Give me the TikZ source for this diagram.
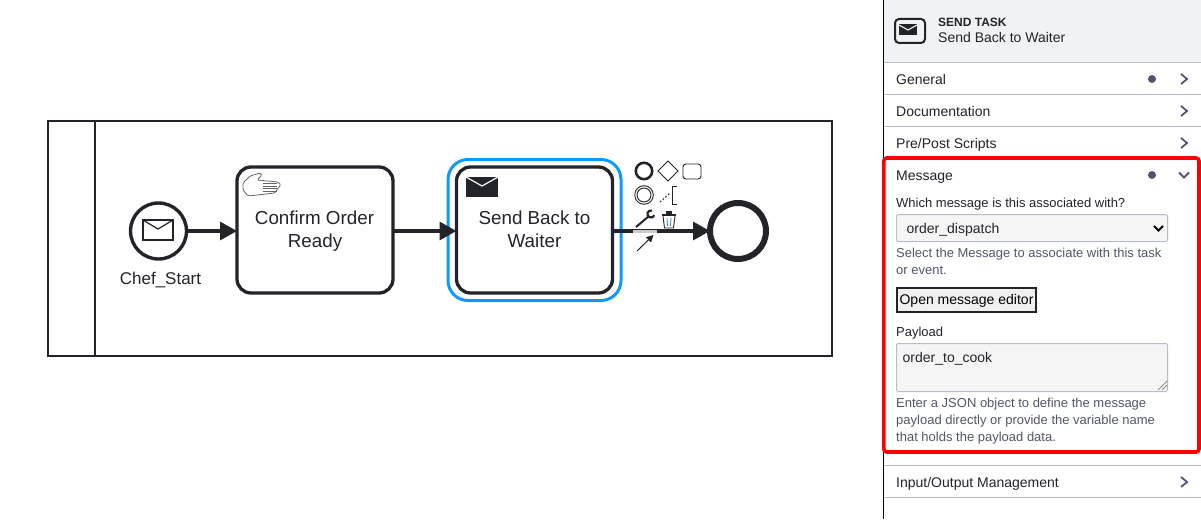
\documentclass[tikz,border=0pt]{standalone}
\usepackage{fontspec}
\setmainfont{Liberation Sans}
\usetikzlibrary{arrows.meta}
\definecolor{ink}{HTML}{22242A}
\definecolor{panelgrey}{HTML}{F1F2F4}
\definecolor{rulegrey}{HTML}{B9BCC6}
\definecolor{helptext}{HTML}{52566A}
\definecolor{fieldbg}{HTML}{F5F5F5}
\definecolor{selblue}{HTML}{0D99FF}
\tikzset{
  x=1pt,y=-1pt,
  flow/.style={draw=ink,line width=3.3pt,-{Triangle[length=17pt,width=18pt]}},
  taskbox/.style={draw=ink,line width=3.3pt,rounded corners=14pt,fill=white,minimum width=156pt,minimum height=126pt,outer sep=0pt},
  tasktext/.style={anchor=base,inner sep=0pt,text=ink,font=\fontsize{18.8}{22.5}\selectfont},
  eventc/.style={draw=ink,circle,fill=white,outer sep=0pt,inner sep=0pt},
  ptext/.style={anchor=base west,inner sep=0pt,text=ink,font=\fontsize{14}{16}\selectfont},
  ltext/.style={anchor=base west,inner sep=0pt,text=ink,font=\fontsize{13}{16}\selectfont},
  htext/.style={anchor=base west,inner sep=0pt,text=helptext,font=\fontsize{13}{16}\selectfont},
  pline/.style={draw=rulegrey,line width=1pt},
  chev/.style={draw=helptext,line width=1.8pt},
  dotm/.style={circle,fill=helptext,inner sep=0pt,minimum size=8pt},
}
\begin{document}
\begin{tikzpicture}
\useasboundingbox (0,0) rectangle (1201,519);
\fill[white] (0,0) rectangle (1201,519);
% pool
\draw[ink,line width=2pt] (48,121) rectangle (832,356);
\draw[ink,line width=2pt] (95,121) -- (95,356);
% selection
\draw[selblue,line width=3pt,rounded corners=20pt] (448,159.5) rectangle (621,300.5);
% elements
\node[eventc,line width=3.4pt,minimum size=56pt] (start) at (158.5,231) {};
\node[taskbox] (confirm) at (315,230) {};
\node[taskbox] (send) at (534.5,230) {};
\node[eventc,line width=6pt,minimum size=56pt] (end) at (738,231) {};
\node[tasktext] (c1t) at (314.5,224) {Confirm Order};
\node[tasktext] (c2t) at (315,247) {Ready};
\node[tasktext] (s1t) at (534.5,224) {Send Back to};
\node[tasktext] (s2t) at (534.5,247) {Waiter};
\node[anchor=base,inner sep=0pt,text=ink,font=\fontsize{17}{18}\selectfont] (startlabel) at (160.5,284) {Chef\_Start};
% connectors
\coordinate (a2) at (confirm.west|-start.east);
\draw[flow] (start.east) -- (a2);
\coordinate (b1) at (confirm.east|-start.east);
\coordinate (b2) at (send.west|-start.east);
\draw[flow] (b1) -- (b2);
\coordinate (c1) at (send.east|-start.east);
\draw[flow] (c1) -- (end.west);
\draw[white!80!black,line width=3pt] (633,231) -- (657,231);
% start envelope
\draw[ink,line width=1.6pt,fill=white] (143,220) rectangle (173,240);
\draw[ink,line width=1.2pt] (143,220) -- (158,229) -- (173,220);
% hand icon
\draw[gray!80!black,line width=.8pt,rounded corners=1.5pt] (243,183) -- (250,176) -- (260,173) -- (262,175) -- (257,180) -- (278,182) -- (281,185) -- (278,188) -- (275,193) -- (248,196) -- (243,190) -- cycle;
\foreach \yy in {183.5,186,188.5,191}{\draw[ink!70,line width=.8pt] (263,\yy) -- (277,\yy);}
% send envelope
\fill[ink] (466,177) rectangle (498,197);
\draw[white,line width=1.2pt] (466,177) -- (482,186) -- (498,177);
% context pad
\draw[ink,line width=2.6pt] (644,171) circle[radius=8.2];
\draw[ink,line width=.9pt] (668,161) -- (678,171) -- (668,181) -- (658,171) -- cycle;
\draw[ink,line width=.9pt,rounded corners=3pt] (683,164) rectangle (701,179);
\draw[ink,line width=.9pt] (644,195) circle[radius=9.3];
\draw[ink,line width=.9pt] (644,195) circle[radius=7];
\draw[ink,line width=1pt,dash pattern=on 1.6pt off 2pt] (660,202) -- (670,193);
\draw[ink,line width=1pt] (677,186) -- (672,186) -- (672,204) -- (677,204);
\draw[ink,line width=2pt] (636,227) -- (648.5,216.5);
\draw[ink,line width=2.2pt] (652.2,210.6) arc[start angle=-70,end angle=-340,radius=3.6];
\draw[ink,line width=.9pt] (663,216) -- (664.5,228) -- (673.5,228) -- (675,216);
\fill[ink] (662,214) rectangle (676,216);
\fill[ink] (666,211) rectangle (672,214);
\draw[selblue!70!ink,line width=.7pt] (667,218) -- (667.5,226) (671,218) -- (670.5,226);
\draw[ink,line width=1pt,-{Triangle[length=7pt,width=7pt]}] (637,251) -- (653.5,235);
% panel
\fill[panelgrey] (883,0) rectangle (1201,62);
\draw[black,line width=1pt] (883,0) -- (883,519);
\foreach \yy in {62.5,94.5,126.5,465.5,497.5}{\draw[pline] (884,\yy) -- (1201,\yy);}
\draw[ink,line width=2pt,rounded corners=4pt] (895,19) rectangle (925,43);
\fill[ink] (899,24.5) rectangle (917,35.5);
\draw[white,line width=1pt] (899,25) -- (908,30) -- (917,25);
\node[anchor=base west,inner sep=0pt,text=ink,font=\bfseries\fontsize{12}{14}\selectfont] (ttype) at (938,27) {SEND TASK};
\node[ptext] (tname) at (938,43) {Send Back to Waiter};
\node[ptext] (general) at (896,84) {General};
\node[ptext] (docs) at (896,116) {Documentation};
\node[ptext] (scripts) at (896,148) {Pre/Post Scripts};
\node[ptext] (message) at (896,180) {Message};
\node[ptext] (io) at (896,487) {Input/Output Management};
\node[dotm] (dot1) at (1152,79) {};
\node[dotm] (dot2) at (1152,175) {};
\foreach \yy in {79,111,143,482}{\draw[chev] (1181,\yy-5) -- (1187,\yy) -- (1181,\yy+5);}
\draw[chev] (1179,172.5) -- (1184,177.5) -- (1189,172.5);
\node[ltext] (q) at (896,207) {Which message is this associated with?};
% select
\draw[rulegrey,line width=1pt,fill=fieldbg,rounded corners=1.5pt] (896.5,214.5) rectangle (1167.5,241.5);
\node[ptext] (sel) at (906.5,233) {order\_dispatch};
\draw[black,line width=1.8pt] (1154,226) -- (1158.5,230.5) -- (1163,226);
\node[htext] (h1) at (896,257) {Select the Message to associate with this task};
\node[htext] (h2) at (896,274) {or event.};
% button
\node[draw=ink,line width=2pt,fill=black!6,minimum width=139pt,minimum height=24pt,inner sep=0pt,outer sep=0pt] (btn) at (966.5,299.5) {};
\node[anchor=base,inner sep=0pt,text=black,font=\fontsize{14}{16}\selectfont] (btnt) at (966.5,304) {Open message editor};
\node[ltext] (pl) at (896,336) {Payload};
% textarea
\draw[rulegrey,line width=1pt,fill=fieldbg,rounded corners=1.5pt] (896.5,343.5) rectangle (1167.5,391.5);
\node[ptext] (pv) at (902.5,362) {order\_to\_cook};
\draw[gray,line width=.7pt] (1158,390) -- (1167,381) (1162,390) -- (1167,385);
\node[htext] (h3) at (896,407) {Enter a JSON object to define the message};
\node[htext] (h4) at (896,424) {payload directly or provide the variable name};
\node[htext] (h5) at (896,441) {that holds the payload data.};
% red box
\draw[red,line width=3.6pt,rounded corners=3pt] (883.8,158) rectangle (1199,452);
\end{tikzpicture}
\end{document}
